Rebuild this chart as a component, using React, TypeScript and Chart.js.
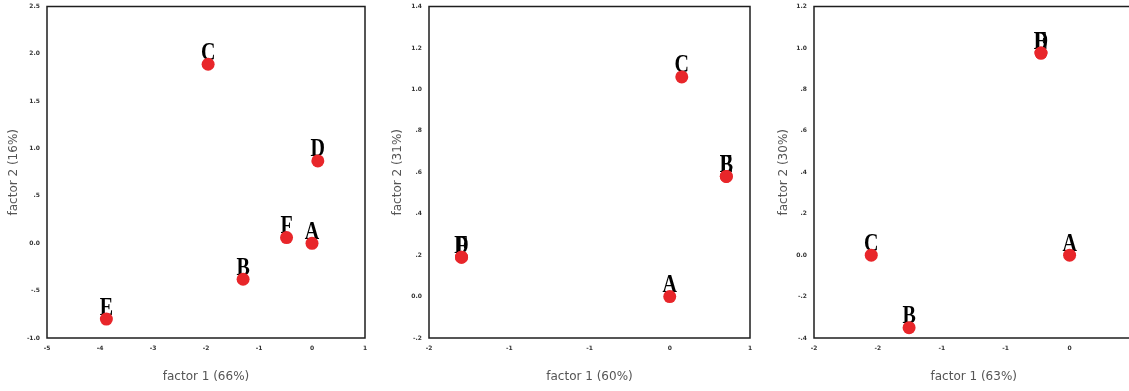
import React, { useEffect, useRef } from "react";
import { Chart, registerables } from "chart.js";

Chart.register(...registerables);

// ---------- Panel 1 ----------
const p1Names = ["A", "B", "C", "D", "E", "F"];
const p1X = [0.0, -1.3, -1.96, 0.11, -3.88, -0.48];
const p1Y = [0.0, -0.38, 1.89, 0.87, -0.8, 0.06];
const p1XTicks = [-5, -4, -3, -2, -1, 0, 1];
const p1XTickLabels = ["-5", "-4", "-3", "-2", "-1", "0", "1"];
const p1YTicks = [-1, -0.5, 0, 0.5, 1, 1.5, 2, 2.5];
const p1YTickLabels = ["-1.0", "-.5", "0.0", ".5", "1.0", "1.5", "2.0", "2.5"];

// ---------- Panel 2 ----------
const p2Names = ["A", "B", "C", "D", "E", "F"];
const p2X = [0.0, 0.47, 0.1, -1.73, 0.47, -1.73];
const p2Y = [0.0, 0.58, 1.06, 0.19, 0.58, 0.19];
const p2XTicks = [-2, -1.3333, -0.6667, 0, 0.6667];
const p2XTickLabels = ["-2", "-1", "-1", "0", "1"];
const p2YTicks = [-0.2, 0, 0.2, 0.4, 0.6, 0.8, 1.0, 1.2, 1.4];
const p2YTickLabels = ["-.2", "0.0", ".2", ".4", ".6", ".8", "1.0", "1.2", "1.4"];

// ---------- Panel 3 ----------
const p3Names = ["A", "B", "C", "D", "E"];
const p3X = [0.0, -1.57, -1.94, -0.28, -0.28];
const p3Y = [0.0, -0.35, 0.0, 0.975, 0.975];
const p3XTicks = [-2.5, -1.875, -1.25, -0.625, 0, 0.625];
const p3XTickLabels = ["-2", "-2", "-1", "-1", "0", "1"];
const p3YTicks = [-0.4, -0.2, 0, 0.2, 0.4, 0.6, 0.8, 1.0, 1.2];
const p3YTickLabels = ["-.4", "-.2", "0.0", ".2", ".4", ".6", ".8", "1.0", "1.2"];

const H = 391;
const PLOT_TOP = 5;
const PLOT_BOTTOM = 338;
const POINT_COLOR = "rgb(232, 38, 42)";
const TICK_FONT = { size: 6, weight: "bold" as const, family: "'DejaVu Sans', sans-serif" };
const TITLE_FONT = { size: 12, family: "'DejaVu Sans', sans-serif" };

type PanelProps = {
  left: number;
  width: number;
  yAxisWidth: number;
  rightPad: number;
  yTitleOffset: number;
  names: string[];
  xs: number[];
  ys: number[];
  xMin: number;
  xMax: number;
  yMin: number;
  yMax: number;
  xTicks: number[];
  xTickLabels: string[];
  yTicks: number[];
  yTickLabels: string[];
  xTitle: string;
  yTitle: string;
};

function makeLabelPlugin(names: string[]) {
  return {
    id: "frameAndLabels",
    beforeDatasetsDraw(chart: any) {
      const { ctx, chartArea: a } = chart;
      ctx.save();
      ctx.strokeStyle = "#1e1e1e";
      ctx.lineWidth = 1.5;
      ctx.strokeRect(a.left, a.top, a.right - a.left, a.bottom - a.top);
      const meta = chart.getDatasetMeta(0);
      ctx.fillStyle = "#000";
      ctx.font = "bold 25px 'Liberation Serif', 'Times New Roman', serif";
      ctx.textAlign = "center";
      ctx.textBaseline = "alphabetic";
      meta.data.forEach((el: any, i: number) => {
        ctx.save();
        ctx.translate(el.x, el.y - 4.5);
        ctx.scale(0.8, 1);
        ctx.fillText(names[i], 0, 0);
        ctx.restore();
      });
      ctx.restore();
    },
  };
}

function Panel(p: PanelProps) {
  const ref = useRef<HTMLCanvasElement | null>(null);
  useEffect(() => {
    if (!ref.current) return;
    const chart = new Chart(ref.current, {
      type: "scatter",
      data: {
        datasets: [
          {
            data: p.xs.map((x, i) => ({ x, y: p.ys[i] })),
            backgroundColor: POINT_COLOR,
            borderWidth: 0,
            pointRadius: 6.5,
            pointHoverRadius: 6.5,
            clip: false as any,
          },
        ],
      },
      options: {
        responsive: false,
        animation: false,
        events: [],
        layout: { padding: { left: 0, top: PLOT_TOP, right: p.rightPad, bottom: 0 } },
        plugins: { legend: { display: false }, tooltip: { enabled: false } },
        scales: {
          x: {
            type: "linear",
            min: p.xMin,
            max: p.xMax,
            afterBuildTicks: (s: any) => {
              s.ticks = p.xTicks.map((v) => ({ value: v }));
            },
            afterFit: (s: any) => {
              s.height = H - PLOT_BOTTOM;
              s.paddingLeft = 0;
              s.paddingRight = 0;
            },
            grid: { display: false, drawTicks: false },
            border: { display: false },
            ticks: {
              callback: (_v: any, i: number) => p.xTickLabels[i],
              font: TICK_FONT,
              color: "#333",
              padding: 7,
              maxRotation: 0,
              autoSkip: false,
            },
            title: {
              display: true,
              text: p.xTitle,
              font: TITLE_FONT,
              color: "#555",
              padding: { top: 0, bottom: 7 },
            },
          },
          y: {
            type: "linear",
            min: p.yMin,
            max: p.yMax,
            afterBuildTicks: (s: any) => {
              s.ticks = p.yTicks.map((v) => ({ value: v }));
            },
            afterFit: (s: any) => {
              s.width = p.yAxisWidth;
              s.paddingTop = 0;
              s.paddingBottom = 0;
            },
            grid: { display: false, drawTicks: false },
            border: { display: false },
            ticks: {
              callback: (_v: any, i: number) => p.yTickLabels[i],
              font: TICK_FONT,
              color: "#333",
              padding: 7,
              autoSkip: false,
            },
            title: {
              display: true,
              text: p.yTitle,
              font: TITLE_FONT,
              color: "#555",
              padding: { top: p.yTitleOffset, bottom: 0 },
            },
          },
        },
      },
      plugins: [makeLabelPlugin(p.names)],
    });
    return () => chart.destroy();
  }, []);
  return (
    <canvas
      ref={ref}
      width={p.width}
      height={H}
      style={{ position: "absolute", left: p.left, top: 0, width: p.width, height: H }}
    />
  );
}

export default function App() {
  return (
    <div
      style={{
        position: "fixed",
        left: 0,
        top: 0,
        width: 1129,
        height: H,
        overflow: "hidden",
        background: "#fff",
      }}
    >
      <Panel
        left={0}
        width={380}
        yAxisWidth={47}
        rightPad={15}
        yTitleOffset={7}
        names={p1Names}
        xs={p1X}
        ys={p1Y}
        xMin={-5}
        xMax={1}
        yMin={-1}
        yMax={2.5}
        xTicks={p1XTicks}
        xTickLabels={p1XTickLabels}
        yTicks={p1YTicks}
        yTickLabels={p1YTickLabels}
        xTitle="factor 1 (66%)"
        yTitle="factor 2 (16%)"
      />
      <Panel
        left={380}
        width={380}
        yAxisWidth={49}
        rightPad={10}
        yTitleOffset={11}
        names={p2Names}
        xs={p2X}
        ys={p2Y}
        xMin={-2}
        xMax={0.6667}
        yMin={-0.2}
        yMax={1.4}
        xTicks={p2XTicks}
        xTickLabels={p2XTickLabels}
        yTicks={p2YTicks}
        yTickLabels={p2YTickLabels}
        xTitle="factor 1 (60%)"
        yTitle="factor 2 (31%)"
      />
      <Panel
        left={760}
        width={380}
        yAxisWidth={54}
        rightPad={5}
        yTitleOffset={17}
        names={p3Names}
        xs={p3X}
        ys={p3Y}
        xMin={-2.5}
        xMax={0.625}
        yMin={-0.4}
        yMax={1.2}
        xTicks={p3XTicks}
        xTickLabels={p3XTickLabels}
        yTicks={p3YTicks}
        yTickLabels={p3YTickLabels}
        xTitle="factor 1 (63%)"
        yTitle="factor 2 (30%)"
      />
    </div>
  );
}
